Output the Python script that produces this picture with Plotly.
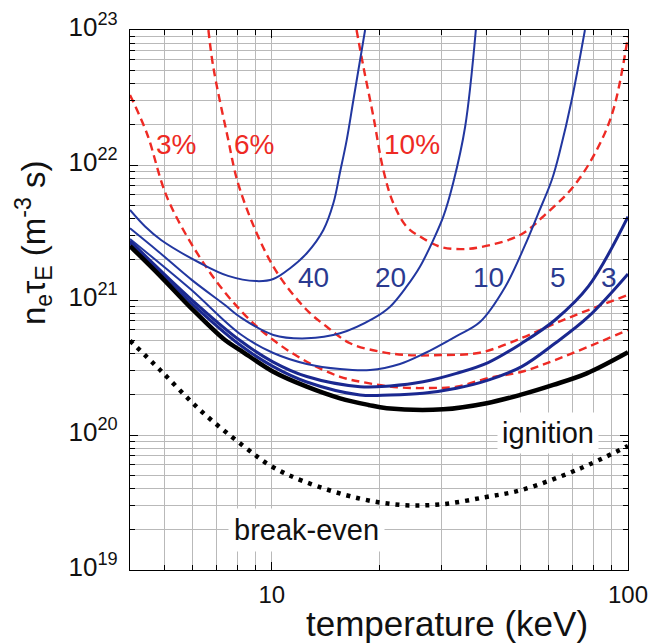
import math
import plotly.graph_objects as go

# ---------------- data (temperature in keV, n_e*tau_E in m^-3 s) ----------------
ign_T = [4.0, 4.86, 5.90, 7.39, 8.15, 10.1, 12.54, 15.55, 18.67, 21.03, 30.3, 40.1, 49.8, 61.7, 76.6, 100]
ign_y = [2.51e21, 1.51e21, 8.87e20, 5.05e20, 4.26e20, 2.94e20, 2.28e20, 1.87e20, 1.67e20, 1.58e20, 1.55e20,
         1.72e20, 1.98e20, 2.35e20, 2.86e20, 4.10e20]

be_T = [4.0, 4.86, 6.29, 8.32, 10.0, 12.4, 17.5, 23.2, 30.0, 39.7, 50.3, 72.5, 100]
be_y = [5.0e20, 3.03e20, 1.53e20, 8.3e19, 5.85e19, 4.5e19, 3.4e19, 3.03e19, 3.07e19, 3.46e19, 3.92e19, 5.57e19, 8.3e19]

q40_T = [4.0, 4.41, 4.90, 6.29, 7.54, 9.08, 10.1, 11.26, 12.54, 13.96, 14.89, 15.55, 16.23, 16.95, 18.28]
q40_y = [4.64e21, 3.50e21, 2.77e21, 1.88e21, 1.51e21, 1.38e21, 1.43e21, 1.72e21, 2.22e21, 3.30e21, 5.2e21,
         8.87e21, 1.53e22, 3.03e22, 1.0e23]

q20_T = [4.0, 4.81, 5.96, 7.39, 8.15, 10.1, 12.54, 15.55, 19.29, 21.48, 23.92, 26.08, 28.4, 30.3, 32.3, 34.9, 37.4]
q20_y = [3.40e21, 2.28e21, 1.41e21, 9.18e20, 7.48e20, 5.51e20, 5.2e20, 5.67e20, 7.31e20, 8.92e20, 1.26e21,
         1.77e21, 2.78e21, 4.14e21, 7.36e21, 1.92e22, 1.0e23]

q10_T = [4.0, 5.90, 8.15, 10.1, 12.54, 15.55, 18.88, 22.9, 26.6, 33.0, 38.4, 45.2, 51.4, 56.0, 61.1, 64.5,
         69.5, 75.7]
q10_y = [2.83e21, 1.21e21, 5.6e20, 4.05e20, 3.36e20, 3.08e20, 3.03e20, 3.36e20, 3.98e20, 5.41e20, 6.87e20,
         1.25e21, 2.55e21, 4.39e21, 7.74e21, 1.29e22, 3.03e22, 1.0e23]

q5_T = [4.0, 5.90, 8.15, 10.1, 12.54, 17.7, 21.48, 26.6, 33.0, 40.5, 50.3, 62.4, 77.4, 100]
q5_y = [2.74e21, 1.03e21, 5.01e20, 3.47e20, 2.71e20, 2.28e20, 2.31e20, 2.48e20, 2.86e20, 3.44e20, 4.78e20,
        7.11e20, 1.26e21, 4.14e21]

q3_T = [4.0, 5.90, 8.15, 10.1, 12.54, 17.7, 21.48, 26.6, 33.0, 40.5, 50.3, 62.4, 77.4, 100]
q3_y = [2.64e21, 9.66e20, 4.64e20, 3.21e20, 2.47e20, 1.98e20, 1.98e20, 2.04e20, 2.22e20, 2.55e20, 3.21e20,
        4.78e20, 7.52e20, 1.56e21]

imp3_T = [4.0, 4.46, 5.12, 6.63, 8.32, 10.1, 12.54, 15.55, 18.67, 22.9, 27.8, 33.0, 40.5, 50.3, 62.4, 77.4, 100]
imp3_y = [3.30e22, 1.72e22, 5.51e21, 1.67e21, 7.97e20, 5.05e20, 3.49e20, 2.70e20, 2.42e20, 2.25e20, 2.23e20,
          2.28e20, 2.64e20, 2.94e20, 3.59e20, 4.51e20, 6.0e20]

imp6_T = [6.64, 6.85, 7.48, 8.15, 10.1, 12.54, 14.27, 16.59, 20.14, 23.92, 29.7, 38.4, 50.3, 62.4, 77.4, 100]
imp6_y = [1.0e23, 5.35e22, 1.72e22, 6.53e21, 1.77e21, 8.43e20, 6.34e20, 4.78e20, 4.14e20, 3.91e20, 3.91e20,
          4.07e20, 5.23e20, 6.71e20, 8.43e20, 1.09e21]

imp10_T = [17.3, 18.08, 19.29, 20.57, 21.95, 23.92, 26.6, 29.7, 33.8, 38.4, 49.8, 59.1, 70.2, 81.7, 90.9, 100]
imp10_y = [1.0e23, 5.35e22, 2.28e22, 9.18e21, 5.2e21, 3.49e21, 2.86e21, 2.48e21, 2.38e21, 2.46e21, 3.03e21,
           4.39e21, 6.9e21, 1.29e22, 2.55e22, 9.0e22]

imp_labels = ["3%", "6%", "10%"]
ratio_labels = ["40", "20", "10", "5", "3"]
y_tick_vals = [1e19, 1e20, 1e21, 1e22, 1e23]
x_tick_vals = [10, 100]

# ---------------- styles ----------------
FONT = "Liberation Sans, Arial, Helvetica, sans-serif"
RED = "#ee2a24"
BLUE = "#2237a0"
BLUE_DK = "#1a2890"
GRID = "#b9b9b9"

fig = go.Figure()

def add(T, y, color, width, dash="solid"):
    fig.add_trace(go.Scatter(x=T, y=y, mode="lines", line=dict(color=color, width=width, dash=dash,
                                                                  shape="spline", smoothing=1.0),
                             hoverinfo="skip", showlegend=False, cliponaxis=True))

add(be_T, be_y, "black", 4.5, "4px,6px")
add(imp3_T, imp3_y, RED, 2.4, "8px,5px")
add(imp6_T, imp6_y, RED, 2.4, "8px,5px")
add(imp10_T, imp10_y, RED, 2.4, "8px,5px")
add(q40_T, q40_y, BLUE, 2.0)
add(q20_T, q20_y, BLUE, 2.0)
add(q10_T, q10_y, BLUE, 2.0)
add(q5_T, q5_y, BLUE_DK, 3.0)
add(q3_T, q3_y, BLUE_DK, 3.0)
add(ign_T, ign_y, "black", 4.5)

# ---------------- labels ----------------
lab_imp_T = [5.39, 8.92, 24.8]
lab_imp_y = [1.41e22, 1.41e22, 1.41e22]
for t, T, y in zip(imp_labels, lab_imp_T, lab_imp_y):
    fig.add_annotation(x=math.log10(T), y=math.log10(y), text=t, showarrow=False,
                       font=dict(family=FONT, size=28, color=RED), xanchor="center", yanchor="middle")

lab_q_T = [13.1, 21.6, 40.7, 63.4, 88.7]
lab_q_y = [1.47e21] * 5
for t, T, y in zip(ratio_labels, lab_q_T, lab_q_y):
    fig.add_annotation(x=math.log10(T), y=math.log10(y), text=t, showarrow=False,
                       font=dict(family=FONT, size=28, color="#2a3a90"), xanchor="center", yanchor="middle")

fig.add_annotation(x=math.log10(59.6), y=math.log10(1.03e20), text="ignition", showarrow=False,
                   font=dict(family=FONT, size=29, color="#111111"), bgcolor="white", borderpad=4,
                   xanchor="center", yanchor="middle")
fig.add_annotation(x=math.log10(12.49), y=math.log10(1.98e19), text="break-even", showarrow=False,
                   font=dict(family=FONT, size=29, color="#111111"), bgcolor="white", borderpad=5,
                   xanchor="center", yanchor="middle")

# axis titles
fig.add_annotation(xref="paper", yref="paper", x=(447 - 130) / 498, y=(570 - 623) / 540,
                   text="temperature (keV)", showarrow=False, xanchor="center", yanchor="middle",
                   font=dict(family=FONT, size=35, color="#111111"))
fig.add_annotation(xref="paper", yref="paper", x=(33 - 130) / 498, y=(570 - 243) / 540,
                   text="n<sub>e</sub>τ<sub>E</sub> (m<sup>-3</sup> s)", showarrow=False, textangle=-90,
                   xanchor="center", yanchor="middle", font=dict(family=FONT, size=33, color="#111111"))

x_minor = [m * 10.0 ** e for e in (0, 1) for m in range(2, 10)]
y_minor = [m * 10.0 ** e for e in range(19, 23) for m in range(2, 10)]

fig.update_xaxes(type="log", range=[math.log10(4), 2], tickmode="array", tickvals=x_tick_vals,
                 ticktext=["10", "100"], ticks="inside", ticklen=8, tickcolor="black",
                 showline=True, linecolor="black", linewidth=1.3, mirror="allticks",
                 showgrid=True, gridcolor=GRID, gridwidth=1, zeroline=False, automargin=False,
                 ticklabelstandoff=3,
                 tickfont=dict(family=FONT, size=24, color="#111111"),
                 minor=dict(tickmode="array", tickvals=x_minor, ticks="inside", ticklen=5,
                            tickcolor="black", showgrid=True, gridcolor=GRID, gridwidth=1))
fig.update_yaxes(type="log", range=[19, 23], tickmode="array", tickvals=y_tick_vals,
                 ticktext=["10<sup>19</sup>", "10<sup>20</sup>", "10<sup>21</sup>", "10<sup>22</sup>",
                           "10<sup>23</sup>"],
                 ticks="inside", ticklen=8, tickcolor="black",
                 showline=True, linecolor="black", linewidth=1.3, mirror="allticks",
                 showgrid=True, gridcolor=GRID, gridwidth=1, zeroline=False, automargin=False,
                 ticklabelstandoff=6, ticklabelshift=-3,
                 tickfont=dict(family=FONT, size=26, color="#111111"),
                 minor=dict(tickmode="array", tickvals=y_minor, ticks="inside", ticklen=5,
                            tickcolor="black", showgrid=True, gridcolor=GRID, gridwidth=1))

fig.update_layout(width=651, height=643, margin=dict(l=130, r=23, t=30, b=73),
                  paper_bgcolor="white", plot_bgcolor="white", showlegend=False)

fig.write_html("out.html", config={"displayModeBar": False},
               post_script="document.body.style.margin='0';document.body.style.overflow='hidden';")
